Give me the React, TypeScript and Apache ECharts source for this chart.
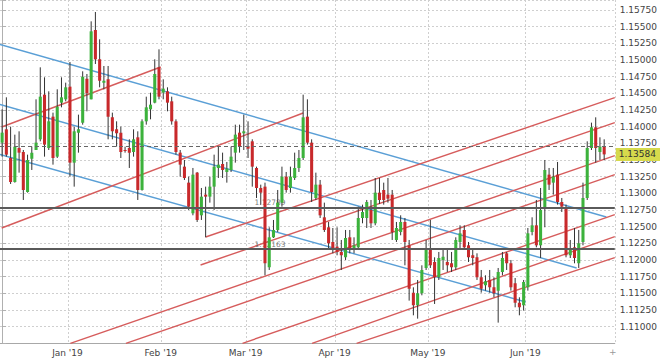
import React, { useEffect, useRef } from "react";
import * as echarts from "echarts";

// Daily EUR/USD sessions, first session 7 Dec 2018 (weekdays, market holidays skipped)
const firstSession = [2018, 11, 7];
const holidays = ["2018-12-25", "2019-01-01"];
const paddingSessions = 2;

const openPrices = [
  1.1376, 1.1396, 1.1353, 1.1317, 1.1368, 1.1362, 1.1302, 1.1352, 1.1365, 1.1381,
  1.1448, 1.1368, 1.1415, 1.1355, 1.1436, 1.1441, 1.146, 1.1346, 1.1391, 1.1406,
  1.1472, 1.1441, 1.1545, 1.1501, 1.1466, 1.1471, 1.1414, 1.1396, 1.1391, 1.1365,
  1.1368, 1.1362, 1.1384, 1.1305, 1.1408, 1.1426, 1.1436, 1.1489, 1.1451, 1.1453,
  1.1438, 1.1408, 1.1361, 1.134, 1.1316, 1.127, 1.1331, 1.1267, 1.1298, 1.1295,
  1.131, 1.1338, 1.1344, 1.1332, 1.1335, 1.1361, 1.1391, 1.139, 1.1371, 1.1378,
  1.1338, 1.1308, 1.131, 1.1189, 1.1234, 1.1245, 1.1286, 1.1325, 1.1308, 1.1323,
  1.1338, 1.1353, 1.1415, 1.1376, 1.1293, 1.1313, 1.1264, 1.1249, 1.1227, 1.122,
  1.1212, 1.1204, 1.1234, 1.1218, 1.1219, 1.1263, 1.1263, 1.1275, 1.1255, 1.1301,
  1.1305, 1.1298, 1.1298, 1.123, 1.1242, 1.1257, 1.1222, 1.1151, 1.1132, 1.115,
  1.1188, 1.1218, 1.1197, 1.1174, 1.12, 1.1197, 1.1195, 1.1189, 1.1227, 1.1245,
  1.1222, 1.1207, 1.1204, 1.1174, 1.1162, 1.117, 1.1159, 1.1154, 1.1182, 1.121,
  1.1195, 1.1165, 1.1136, 1.1132, 1.1159, 1.1242, 1.1252, 1.1222, 1.1278, 1.1328,
  1.1316, 1.1328, 1.1287, 1.1278, 1.1207, 1.1219, 1.1195, 1.1227, 1.1293, 1.1368,
  1.1399, 1.1362, 1.137,
];
const closePrices = [
  1.1391, 1.1358, 1.1317, 1.137, 1.1361, 1.1305, 1.135, 1.1361, 1.1376, 1.1445,
  1.1373, 1.1408, 1.1353, 1.143, 1.1444, 1.1459, 1.1346, 1.1393, 1.1396, 1.1475,
  1.145, 1.1543, 1.1501, 1.1469, 1.1469, 1.1415, 1.1393, 1.139, 1.1362, 1.1364,
  1.1361, 1.1381, 1.1305, 1.1408, 1.1429, 1.1433, 1.1479, 1.1445, 1.1457, 1.1436,
  1.1408, 1.1362, 1.1343, 1.1323, 1.128, 1.1328, 1.126, 1.1295, 1.1295, 1.131,
  1.134, 1.1343, 1.1335, 1.1337, 1.1355, 1.1388, 1.137, 1.1393, 1.1367, 1.134,
  1.1308, 1.1301, 1.1195, 1.1234, 1.1245, 1.1286, 1.1325, 1.1305, 1.1325, 1.1338,
  1.1353, 1.1414, 1.1376, 1.1302, 1.1313, 1.1267, 1.1245, 1.1225, 1.1218, 1.1212,
  1.1207, 1.1233, 1.1215, 1.1222, 1.1263, 1.1272, 1.1287, 1.1255, 1.1301, 1.129,
  1.129, 1.1292, 1.1242, 1.1248, 1.1257, 1.1227, 1.1157, 1.1132, 1.115, 1.1185,
  1.1215, 1.1192, 1.1174, 1.1203, 1.1205, 1.1192, 1.1189, 1.123, 1.124, 1.1219,
  1.1204, 1.1203, 1.1174, 1.1157, 1.1168, 1.1159, 1.115, 1.1182, 1.1203, 1.1195,
  1.1159, 1.1136, 1.1129, 1.1167, 1.124, 1.1252, 1.1222, 1.1275, 1.1335, 1.1313,
  1.1325, 1.1287, 1.128, 1.1207, 1.1218, 1.1203, 1.1225, 1.1293, 1.1368, 1.1399,
  1.1368, 1.137, 1.13584,
];
const lowPrices = [
  1.1355, 1.1355, 1.1314, 1.1316, 1.1331, 1.129, 1.1301, 1.1335, 1.1365, 1.1378,
  1.1355, 1.1365, 1.1343, 1.1353, 1.1429, 1.1438, 1.1325, 1.131, 1.1361, 1.1403,
  1.1423, 1.1441, 1.1494, 1.1459, 1.1456, 1.1381, 1.1381, 1.137, 1.1353, 1.1361,
  1.1338, 1.1355, 1.129, 1.1304, 1.1403, 1.1411, 1.1435, 1.1441, 1.1441, 1.1423,
  1.1403, 1.1358, 1.1325, 1.132, 1.1275, 1.1267, 1.1257, 1.126, 1.1234, 1.1286,
  1.1275, 1.1323, 1.1323, 1.1316, 1.1332, 1.1346, 1.1361, 1.1365, 1.1353, 1.131,
  1.1293, 1.1283, 1.1177, 1.1185, 1.1233, 1.1242, 1.128, 1.1301, 1.1301, 1.132,
  1.1332, 1.135, 1.1373, 1.1287, 1.129, 1.1263, 1.1242, 1.1215, 1.121, 1.1207,
  1.1185, 1.12, 1.121, 1.121, 1.1216, 1.1255, 1.1248, 1.1248, 1.1252, 1.1284,
  1.1283, 1.1286, 1.123, 1.1227, 1.1237, 1.1192, 1.1139, 1.1117, 1.1112, 1.1147,
  1.1185, 1.1188, 1.1134, 1.117, 1.1185, 1.1182, 1.1182, 1.1185, 1.1218, 1.1215,
  1.1197, 1.1192, 1.117, 1.1151, 1.1154, 1.1151, 1.1144, 1.1106, 1.1177, 1.1185,
  1.1154, 1.1129, 1.1117, 1.1124, 1.1154, 1.1237, 1.1219, 1.1203, 1.1249, 1.1305,
  1.1298, 1.1283, 1.1272, 1.1204, 1.1203, 1.1195, 1.1188, 1.1222, 1.129, 1.1365,
  1.1346, 1.135, 1.135,
];
const highPrices = [
  1.1426, 1.1444, 1.14, 1.1388, 1.1393, 1.1365, 1.1358, 1.137, 1.1441, 1.1489,
  1.1474, 1.1453, 1.1421, 1.1456, 1.1474, 1.1466, 1.1497, 1.14, 1.1418, 1.1483,
  1.1479, 1.1558, 1.1572, 1.1531, 1.1491, 1.1491, 1.1421, 1.1408, 1.14, 1.137,
  1.1381, 1.1396, 1.1393, 1.1411, 1.1445, 1.1451, 1.1501, 1.1516, 1.1471, 1.1459,
  1.1445, 1.1411, 1.1365, 1.135, 1.1325, 1.1338, 1.1332, 1.1308, 1.131, 1.1325,
  1.1358, 1.137, 1.1361, 1.1347, 1.137, 1.1403, 1.1403, 1.1418, 1.1408, 1.1381,
  1.134, 1.1313, 1.1316, 1.1249, 1.126, 1.1305, 1.134, 1.1332, 1.134, 1.1361,
  1.1365, 1.1448, 1.1441, 1.1381, 1.1331, 1.132, 1.1286, 1.1257, 1.1248, 1.1249,
  1.123, 1.1245, 1.1245, 1.1234, 1.128, 1.1283, 1.129, 1.129, 1.1323, 1.1323,
  1.1316, 1.1323, 1.1305, 1.1257, 1.1267, 1.1263, 1.123, 1.1159, 1.117, 1.1192,
  1.123, 1.126, 1.1204, 1.1212, 1.1215, 1.1215, 1.1212, 1.1234, 1.1252, 1.1252,
  1.1227, 1.1215, 1.121, 1.1185, 1.1177, 1.1185, 1.1174, 1.1188, 1.1212, 1.1212,
  1.12, 1.1173, 1.1144, 1.117, 1.1248, 1.1264, 1.129, 1.1308, 1.135, 1.1338,
  1.1338, 1.1347, 1.1293, 1.1283, 1.123, 1.1248, 1.1245, 1.1316, 1.1378, 1.1406,
  1.1414, 1.1384, 1.1381,
];

// Horizontal support levels
const keyLevels = [1.12789, 1.12163];
const keyLevelLabelSession = 63.2;

// Descending channel: [session1, price1, session2, price2]
const channelLines = [
  [-0.5, 1.15233, 142.5, 1.12645],
  [-0.5, 1.14333, 135.5, 1.1188],
  [-0.5, 1.13583, 123.5, 1.1137],
];

// Rising trend lines: [session1, price1, session2, price2]
const trendLines = [
  [-0.1, 1.13995, 37.4, 1.14895],
  [-0.1, 1.1248, 71.0, 1.14205],
  [48.0, 1.12345, 144.5, 1.14435],
  [46.8, 1.11925, 144.5, 1.1406],
  [16.1, 1.1075, 144.5, 1.13565],
  [29.2, 1.1075, 144.5, 1.1328],
  [56.7, 1.1075, 144.5, 1.1268],
  [73.1, 1.1075, 144.5, 1.1235],
  [83.6, 1.1075, 144.5, 1.12035],
];

const MONTHS = ["Jan", "Feb", "Mar", "Apr", "May", "Jun", "Jul", "Aug", "Sep", "Oct", "Nov", "Dec"];
const UP = "#3cb23c";
const DOWN = "#c8292b";
const WICK = "#333333";
const BLUE = "#5a9fd6";
const RED = "#d65c5c";
const FONT = "DejaVu Sans";

function buildSessions(total: number): string[] {
  const out: string[] = [];
  const d = new Date(Date.UTC(firstSession[0], firstSession[1], firstSession[2]));
  while (out.length < total) {
    const dow = d.getUTCDay();
    const iso = d.toISOString().slice(0, 10);
    if (dow !== 0 && dow !== 6 && !holidays.includes(iso)) out.push(iso);
    d.setUTCDate(d.getUTCDate() + 1);
  }
  return out;
}

export default function App() {
  const ref = useRef<HTMLDivElement>(null);

  useEffect(() => {
    if (!ref.current) return;
    const chart = echarts.init(ref.current, null, { renderer: "svg" });

    const sessionCount = openPrices.length;
    const sessions = buildSessions(sessionCount + paddingSessions);
    const monthStart = new Set<number>();
    sessions.forEach((s, i) => {
      if (i > 0 && i < sessionCount && s.slice(5, 7) !== sessions[i - 1].slice(5, 7)) monthStart.add(i);
    });
    const isMonthStart = (i: number) => monthStart.has(i);

    const candles = openPrices.map((o, i) => [i, o, closePrices[i], lowPrices[i], highPrices[i]]);
    const last = closePrices.length - 1;

    const lineSeries = (lines: number[][], color: string) =>
      lines.map((l) => ({
        type: "line",
        xAxisIndex: 1,
        yAxisIndex: 0,
        data: [
          [l[0], l[1]],
          [l[2], l[3]],
        ],
        symbol: "none",
        silent: true,
        clip: true,
        z: 1,
        lineStyle: { color, width: 1.4 },
      }));

    const blue = lineSeries(channelLines, BLUE);
    // level lines and previous close hosted on the first channel series
    (blue[0] as any).markLine = {
      silent: true,
      symbol: "none",
      precision: 5,
      animation: false,
      label: { show: false },
      data: [
        ...keyLevels.map((v) => ({ yAxis: v, lineStyle: { color: "#5a5a5a", width: 2, type: "solid" } })),
        { yAxis: closePrices[last - 1], lineStyle: { color: "#666", width: 1, type: [4, 3] } },
      ],
    };

    chart.setOption({
      animation: false,
      textStyle: { fontFamily: FONT },
      grid: { left: -1.7, right: 43.6, top: 0, bottom: 14.7, containLabel: false },
      xAxis: [
        {
          type: "category",
          data: sessions,
          boundaryGap: true,
          axisLine: { show: true, lineStyle: { color: "#a8a8a8" } },
          axisTick: { show: false },
          axisLabel: {
            interval: (i: number) => isMonthStart(i),
            formatter: (v: string) => {
              const m = parseInt(v.slice(5, 7), 10) - 1;
              return `${MONTHS[m]} '${v.slice(2, 4)}`;
            },
            fontSize: 9,
            color: "#444",
            margin: 5,
            padding: [0, 5, 0, 0],
          },
          splitLine: {
            show: true,
            interval: (i: number) => isMonthStart(i),
            lineStyle: { color: "#cfcfcf", type: [2, 2] },
          },
        },
        {
          type: "value",
          min: -0.5,
          max: sessionCount + paddingSessions - 0.5,
          show: false,
        },
      ],
      yAxis: {
        type: "value",
        position: "right",
        min: 1.1075,
        max: 1.159,
        interval: 0.0025,
        scale: true,
        axisLine: { show: true, lineStyle: { color: "#b0b0b0" } },
        axisTick: { show: true, length: 4, lineStyle: { color: "#b0b0b0" } },
        axisLabel: {
          margin: 5,
          fontSize: 9,
          color: "#444",
          formatter: (v: number) => (v < 1.109 || v > 1.158 ? "" : v.toFixed(5)),
        },
        splitLine: { show: true, lineStyle: { color: "#cfcfcf", type: [2, 2] } },
      },
      series: [
        ...blue,
        ...lineSeries(trendLines, RED),
        {
          type: "scatter",
          xAxisIndex: 1,
          yAxisIndex: 0,
          symbolSize: 0,
          silent: true,
          z: 1,
          data: keyLevels.map((v) => [keyLevelLabelSession, v]),
          label: {
            show: true,
            position: "top",
            distance: 1,
            fontSize: 7.5,
            color: "#555",
            formatter: (p: any) => p.value[1].toFixed(5),
          },
        },
        {
          type: "custom",
          xAxisIndex: 0,
          yAxisIndex: 0,
          z: 3,
          clip: true,
          data: candles,
          encode: { x: 0, y: [1, 2, 3, 4] },
          renderItem: (_params: any, api: any) => {
            const i = api.value(0);
            const o = api.value(1);
            const c = api.value(2);
            const pO = api.coord([i, o]);
            const pC = api.coord([i, c]);
            const pL = api.coord([i, api.value(3)]);
            const pH = api.coord([i, api.value(4)]);
            const w = api.size([1, 0])[0] * 0.72;
            const x = pO[0];
            const top = Math.min(pO[1], pC[1]);
            const h = Math.max(Math.abs(pO[1] - pC[1]), 1);
            return {
              type: "group",
              children: [
                {
                  type: "line",
                  shape: { x1: x, y1: pH[1], x2: x, y2: pL[1] },
                  style: { stroke: WICK, lineWidth: 1 },
                },
                {
                  type: "rect",
                  shape: { x: x - w / 2, y: top, width: w, height: h },
                  style: { fill: c >= o ? UP : DOWN },
                },
              ],
            };
          },
          markLine: {
            silent: true,
            symbol: "none",
            precision: 5,
            animation: false,
            lineStyle: { color: "rgba(0,0,0,0)", width: 0 },
            label: {
              show: true,
              position: "end",
              distance: 1,
              formatter: (p: any) => Number(p.value).toFixed(5),
              backgroundColor: "#d6da4c",
              color: "#333",
              fontSize: 9,
              padding: [2, 4, 2, 3],
            },
            data: [{ yAxis: closePrices[last] }],
          },
        },
      ],
      graphic: [
        {
          type: "text",
          left: 609,
          top: 347,
          style: { text: "+", fontSize: 9, fill: "#999", fontFamily: FONT },
          silent: true,
        },
      ],
    });

    return () => chart.dispose();
  }, []);

  return (
    <div
      ref={ref}
      style={{ position: "fixed", left: 0, top: 0, width: 660, height: 358, background: "#fff" }}
    />
  );
}
